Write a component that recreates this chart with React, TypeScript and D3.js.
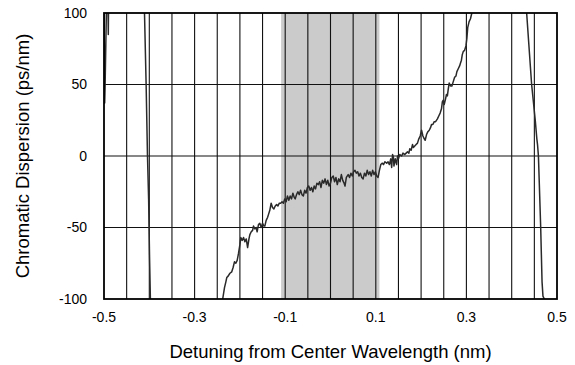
import React from "react";
import * as d3 from "d3";

const xTickLabels = [-0.5, -0.3, -0.1, 0.1, 0.3, 0.5];
const yTickLabels = [-100, -50, 0, 50, 100];
const xGrid = [-0.45, -0.4, -0.35, -0.3, -0.25, -0.2, -0.15, -0.1, -0.05, 0, 0.05, 0.1, 0.15, 0.2, 0.25, 0.3, 0.35, 0.4, 0.45];
const yGrid = [-50, 0, 50];
const band = [-0.109, 0.108];

const mainCurve: [number, number][] = [
  [-0.238,-100],[-0.234,-92],[-0.231,-88],[-0.229,-85],[-0.226,-84],[-0.222,-82],[-0.218,-81],[-0.215,-78],[-0.212,-74],[-0.209,-75],[-0.206,-73],[-0.203,-68],[-0.200,-62],[-0.198,-57],[-0.195,-59],[-0.192,-57],[-0.189,-60],[-0.186,-58],[-0.183,-64],[-0.180,-58],[-0.178,-55],[-0.175,-53],[-0.172,-52],[-0.170,-49],[-0.167,-51],[-0.164,-50],[-0.162,-53],[-0.159,-48],[-0.156,-47],[-0.153,-50],[-0.150,-47],[-0.147,-49],[-0.145,-49],[-0.142,-45],[-0.139,-43],[-0.137,-41],[-0.134,-38],[-0.131,-33],[-0.128,-36],[-0.125,-37],[-0.122,-35],[-0.119,-34],[-0.116,-35],[-0.113,-33],[-0.110,-33],[-0.107,-32],[-0.104,-33],[-0.101,-30],[-0.098,-32],[-0.095,-28],[-0.092,-31],[-0.089,-28],[-0.086,-30],[-0.083,-26],[-0.080,-29],[-0.078,-30],[-0.075,-27],[-0.072,-25],[-0.069,-27],[-0.066,-24],[-0.063,-27],[-0.060,-28],[-0.057,-24],[-0.054,-26],[-0.051,-22],[-0.048,-21],[-0.045,-24],[-0.042,-22],[-0.039,-25],[-0.036,-21],[-0.033,-23],[-0.030,-19],[-0.027,-20],[-0.024,-18],[-0.021,-22],[-0.018,-17],[-0.015,-19],[-0.012,-16],[-0.009,-20],[-0.006,-17],[-0.003,-21],[0.000,-19],[0.003,-15],[0.006,-14],[0.009,-18],[0.012,-15],[0.015,-20],[0.018,-16],[0.021,-18],[0.024,-13],[0.027,-17],[0.030,-19],[0.032,-21],[0.035,-15],[0.039,-13],[0.042,-15],[0.045,-12],[0.048,-14],[0.051,-11],[0.054,-10],[0.057,-12],[0.060,-11],[0.063,-14],[0.066,-12],[0.069,-15],[0.072,-16],[0.075,-12],[0.078,-14],[0.081,-10],[0.084,-13],[0.087,-11],[0.090,-14],[0.093,-10],[0.096,-13],[0.099,-11],[0.102,-14],[0.105,-15],[0.108,-10],[0.111,-6],[0.114,-5],[0.117,-6],[0.120,-4],[0.124,-5],[0.127,-4],[0.130,-6],[0.133,-2],[0.135,-8],[0.137,1],[0.139,-1],[0.140,-7],[0.143,-2],[0.146,-6],[0.148,0],[0.150,-2],[0.153,1],[0.157,0],[0.160,2],[0.164,1],[0.167,2],[0.170,3],[0.173,2],[0.175,5],[0.178,4],[0.181,8],[0.183,6],[0.186,7],[0.189,8],[0.192,9],[0.195,12],[0.198,14],[0.201,18],[0.204,14],[0.207,12],[0.209,11],[0.212,15],[0.215,17],[0.218,18],[0.221,20],[0.223,22],[0.226,22],[0.229,24],[0.232,24],[0.236,26],[0.239,28],[0.242,30],[0.245,33],[0.247,38],[0.249,39],[0.251,36],[0.254,40],[0.256,43],[0.258,42],[0.260,47],[0.262,51],[0.265,49],[0.268,49],[0.271,52],[0.274,55],[0.277,56],[0.279,59],[0.282,61],[0.285,63],[0.287,65],[0.289,67],[0.291,71],[0.293,73],[0.296,74],[0.299,77],[0.301,82],[0.303,90],[0.306,94],[0.309,96],[0.312,100],[0.315,104]
];
const leftEdge: [number, number][] = [
  [-0.5,110],[-0.4985,37],[-0.4975,50],[-0.4945,105],[-0.4915,112],[-0.4905,85],[-0.4898,112]
];
const leftDrop: [number, number][] = [
  [-0.4125,110],[-0.4106,100],[-0.407,50],[-0.404,0],[-0.4015,-30],[-0.3995,-70],[-0.3976,-100],[-0.397,-110]
];
const rightDrop: [number, number][] = [
  [0.431,110],[0.433,100],[0.444,50],[0.452,25],[0.4555,12],[0.457,8],[0.459,0],[0.461,-20],[0.464,-50],[0.467,-88],[0.469,-98],[0.472,-100],[0.475,-101]
];

const W = 575, H = 365;
const L = 104, R = 557, T = 13, B = 299;
const FONT = "Liberation Sans, Arial, Helvetica, sans-serif";

export default function App() {
  const x = d3.scaleLinear().domain([-0.5, 0.5]).range([L, R]);
  const y = d3.scaleLinear().domain([-100, 100]).range([B, T]);
  const line = d3.line<[number, number]>().x(d => x(d[0])).y(d => y(d[1]));
  const series = [mainCurve, leftEdge, leftDrop, rightDrop];
  return (
    <svg width={W} height={H} style={{ position: "absolute", left: 0, top: 0, background: "#fff" }} fontFamily={FONT}>
      <defs>
        <clipPath id="plotclip">
          <rect x={L} y={T} width={R - L} height={B - T} />
        </clipPath>
      </defs>
      <rect x={x(band[0])} y={T} width={x(band[1]) - x(band[0])} height={B - T} fill="#cbcbcb" />
      {xGrid.map(v => (
        <line key={"gx" + v} x1={x(v)} x2={x(v)} y1={T} y2={B} stroke="#111" strokeWidth={1.1} />
      ))}
      {yGrid.map(v => (
        <line key={"gy" + v} x1={L} x2={R} y1={y(v)} y2={y(v)} stroke="#111" strokeWidth={1.1} />
      ))}
      <g clipPath="url(#plotclip)">
        {series.map((s, i) => (
          <path key={i} d={line(s) || ""} fill="none" stroke="#2a2a2a" strokeWidth={1.5} strokeLinejoin="round" />
        ))}
      </g>
      <rect x={L} y={T} width={R - L} height={B - T} fill="none" stroke="#000" strokeWidth={1.8} />
      {yTickLabels.map(v => (
        <text key={"yt" + v} x={L - 17} y={y(v)} dy="0.35em" textAnchor="end" fontSize={14} fill="#000">{v}</text>
      ))}
      {xTickLabels.map(v => (
        <text key={"xt" + v} x={x(v)} y={B + 23} textAnchor="middle" fontSize={14} fill="#000">{v}</text>
      ))}
      <text x={(L + R) / 2} y={358} textAnchor="middle" fontSize={18.5} fill="#000">Detuning from Center Wavelength (nm)</text>
      <text transform={`translate(29,${(T + B) / 2}) rotate(-90)`} textAnchor="middle" fontSize={18.5} fill="#000">Chromatic Dispersion (ps/nm)</text>
    </svg>
  );
}
